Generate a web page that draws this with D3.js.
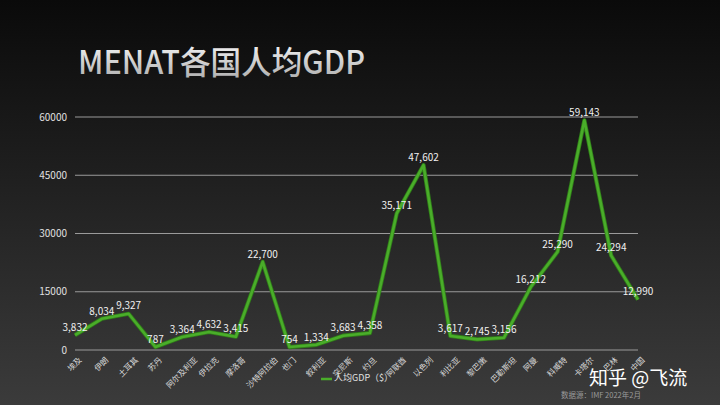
<!DOCTYPE html>
<html><head><meta charset="utf-8">
<script src="https://cdn.jsdelivr.net/npm/d3@7/dist/d3.min.js"></script>
<style>html,body{margin:0;padding:0;background:#000;}svg{display:block;}</style>
</head><body>
<svg id="c" width="720" height="405"></svg>
<script>
const categories = ["埃及","伊朗","土耳其","苏丹","阿尔及利亚","伊拉克","摩洛哥","沙特阿拉伯","也门","叙利亚","突尼斯","约旦","阿联酋","以色列","利比亚","黎巴嫩","巴勒斯坦","阿曼","科威特","卡塔尔","巴林","中国"];
const values = [3832, 8034, 9327, 787, 3364, 4632, 3415, 22700, 754, 1334, 3683, 4358, 35171, 47602, 3617, 2745, 3156, 16212, 25290, 59143, 24294, 12990];
const yTicks = [0, 15000, 30000, 45000, 60000];
const seriesName = "人均GDP（$）";
const title = "MENAT各国人均GDP";
const source = "数据源：IMF  2022年2月";

const FONT = "'Noto Sans CJK SC','Noto Sans',sans-serif";
const svg = d3.select("#c");
const defs = svg.append("defs");
const bg = defs.append("linearGradient").attr("id","bg").attr("x1",0).attr("y1",0).attr("x2",0).attr("y2",1);
bg.append("stop").attr("offset","0%").attr("stop-color","#0a0a0a");
bg.append("stop").attr("offset","100%").attr("stop-color","#3b3b3b");
const tg = defs.append("linearGradient").attr("id","tg").attr("x1",0).attr("y1",0).attr("x2",0).attr("y2",1);
tg.append("stop").attr("offset","0%").attr("stop-color","#ffffff");
tg.append("stop").attr("offset","100%").attr("stop-color","#a8a8a8");

svg.append("rect").attr("width",720).attr("height",405).attr("fill","url(#bg)");

svg.append("text").attr("x",78).attr("y",74).attr("fill","url(#tg)")
  .attr("font-family",FONT).attr("font-size",32).attr("font-weight",500)
  .attr("textLength",287).attr("lengthAdjust","spacingAndGlyphs").text(title);

const x = d3.scalePoint().domain(categories).range([75, 638]).padding(0);
const y = d3.scaleLinear().domain([0, 60000]).range([350, 117]);

// grid
svg.append("g").selectAll("line").data(yTicks).join("line")
  .attr("x1",75).attr("x2",638).attr("y1",d=>y(d)).attr("y2",d=>y(d))
  .attr("stroke","#9a9a9a").attr("stroke-width",1);

// y axis labels
const yAxis = d3.axisLeft(y).tickValues(yTicks).tickSize(0).tickPadding(0).tickFormat(d3.format("d"));
const ya = svg.append("g").attr("transform","translate(67,0)").call(yAxis);
ya.select(".domain").remove();
ya.selectAll("text").attr("fill","#e0e0e0").attr("font-family",FONT).attr("font-size",10);

// x labels
const xAxis = d3.axisBottom(x).tickSize(0).tickPadding(0);
const xa = svg.append("g").attr("transform","translate(0,0)").call(xAxis);
xa.select(".domain").remove();
xa.selectAll(".tick").attr("transform",null);
xa.selectAll("text").attr("fill","#d8d8d8").attr("font-family",FONT).attr("font-size",8)
  .attr("text-anchor","middle").attr("dy",null).attr("y",null)
  .each(function(d){
    const L = this.getComputedTextLength();
    const cx = x(d), cy = 357 + L*0.354 + 2;
    d3.select(this).attr("transform",`translate(${cx},${cy}) rotate(-45)`).attr("dominant-baseline","middle");
  });

// line
const line = d3.line().x((d,i)=>x(categories[i])).y(d=>y(d));
svg.append("path").datum(values).attr("d",line).attr("fill","none")
  .attr("stroke","#2f7d18").attr("stroke-width",4.2).attr("stroke-linejoin","round");
svg.append("path").datum(values).attr("d",line).attr("fill","none")
  .attr("stroke","#4aad2a").attr("stroke-width",2.6).attr("stroke-linejoin","round");

// data labels
svg.append("g").selectAll("text").data(values).join("text")
  .attr("x",(d,i)=>x(categories[i])).attr("y",d=>y(d)-7)
  .attr("text-anchor","middle").attr("dominant-baseline","middle")
  .attr("fill","#f0f0f0").attr("font-family",FONT).attr("font-size",10)
  .text(d=>d3.format(",")(d));

// legend
const lg = svg.append("g");
lg.append("line").attr("x1",321).attr("x2",332).attr("y1",379).attr("y2",379).attr("stroke","#4aad2a").attr("stroke-width",2.5);
lg.append("text").attr("x",334).attr("y",379).attr("dominant-baseline","middle")
  .attr("fill","#e0e0e0").attr("font-family",FONT).attr("font-size",9).text(seriesName);

// source
svg.append("text").attr("x",561).attr("y",396).attr("dominant-baseline","middle")
  .attr("fill","#9a9a9a").attr("font-family",FONT).attr("font-size",7.5).text(source);

// watermark
svg.append("text").attr("x",589).attr("y",385).attr("fill","#ffffff")
  .attr("font-family",FONT).attr("font-size",19).text("知乎 @飞流");
</script>
</body></html>
